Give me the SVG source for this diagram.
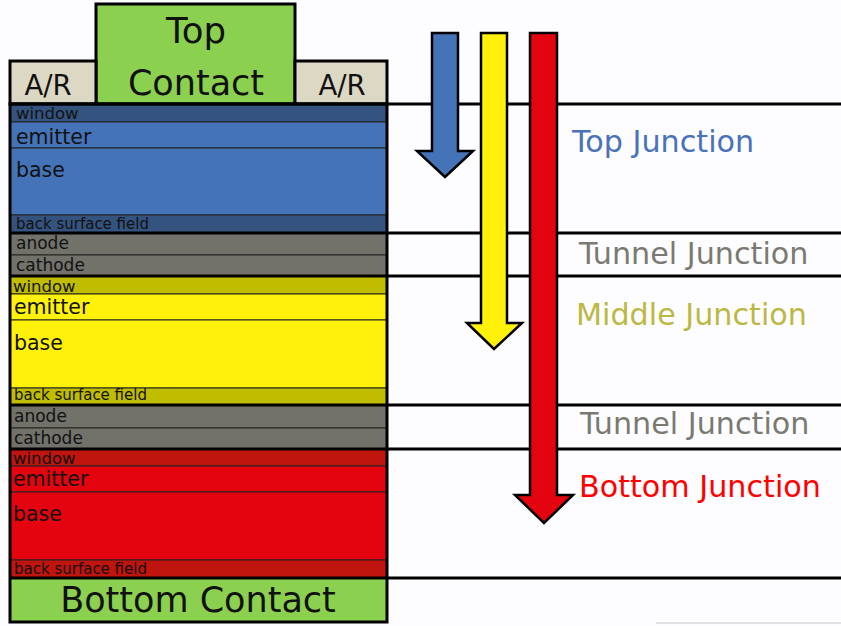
<svg xmlns="http://www.w3.org/2000/svg" width="841" height="626" viewBox="0 0 841 626">
<style>
text{font-family:"DejaVu Sans","Verdana",sans-serif;fill:#111}
.ly{stroke:#222;stroke-width:1}
.thick{stroke:#000;stroke-width:3}
.out{stroke:#000;stroke-width:3;fill:none}
.bnd{stroke:#000;stroke-width:3}
.arr{stroke:#000;stroke-width:2.5;stroke-linejoin:miter}
.s{font-size:16.5px}
.a{font-size:17px}
.m{font-size:20.5px}
.b{font-size:15px}
.lab{font-size:30.2px}
</style>
<rect width="841" height="626" fill="#fdfdff"/>
<g id="connectors">
<line class="bnd" x1="387" y1="104" x2="841" y2="104"/>
<line class="bnd" x1="387" y1="233" x2="841" y2="233"/>
<line class="bnd" x1="387" y1="276" x2="841" y2="276"/>
<line class="bnd" x1="387" y1="405" x2="841" y2="405"/>
<line class="bnd" x1="387" y1="449" x2="841" y2="449"/>
<line class="bnd" x1="387" y1="578" x2="841" y2="578"/>
<line x1="656" y1="623" x2="841" y2="623" stroke="#c8c8c8" stroke-width="1"/>
<polygon class="arr" fill="#4573b8" points="432,33 458,33 458,151 473,151 445,177 417,151 432,151"/>
<polygon class="arr" fill="#fff10a" points="481,33 507,33 507,323 522,323 494,349 467,323 481,323"/>
<polygon class="arr" fill="#e3040f" points="530,33 557,33 557,495 573,495 544,523 515,495 530,495"/>
</g>
<g id="top-contact">
<rect x="96" y="4" width="199" height="100" style="fill:#8cd050" class="thick"/>
<text x="196" y="43" font-size="35.5" text-anchor="middle">Top</text>
<text x="196" y="95" font-size="35" text-anchor="middle">Contact</text>
</g>
<g id="ar-left">
<rect x="10" y="61" width="86" height="43" style="fill:#dcd8c4" class="thick"/>
<text x="48" y="95" font-size="27.5" text-anchor="middle">A/R</text>
</g>
<g id="ar-right">
<rect x="295" y="61" width="92" height="43" style="fill:#dcd8c4" class="thick"/>
<text x="342" y="95" font-size="27.5" text-anchor="middle">A/R</text>
</g>
<g id="top-junction">
<rect class="ly" x="10" y="104" width="377" height="18" fill="#34537f"/>
<rect class="ly" x="10" y="122" width="377" height="26" fill="#4573b8"/>
<rect class="ly" x="10" y="148" width="377" height="67" fill="#4573b8"/>
<rect class="ly" x="10" y="215" width="377" height="18" fill="#34537f"/>
<text class="s" x="16" y="119">window</text>
<text class="m" x="16" y="144">emitter</text>
<text class="m" x="16" y="177">base</text>
<text class="b" x="16" y="229">back surface field</text>
</g>
<g id="tunnel-junction-1">
<rect class="ly" x="10" y="233" width="377" height="22" fill="#72726b"/>
<rect class="ly" x="10" y="255" width="377" height="21" fill="#72726b"/>
<text class="a" x="16" y="249">anode</text>
<text class="a" x="16" y="271">cathode</text>
</g>
<g id="middle-junction">
<rect class="ly" x="10" y="276" width="377" height="18" fill="#c0bd00"/>
<rect class="ly" x="10" y="294" width="377" height="26" fill="#fff10a"/>
<rect class="ly" x="10" y="320" width="377" height="68" fill="#fff10a"/>
<rect class="ly" x="10" y="388" width="377" height="17" fill="#c0bd00"/>
<text class="s" x="13" y="292">window</text>
<text class="m" x="14" y="314">emitter</text>
<text class="m" x="14" y="350">base</text>
<text class="b" x="14" y="400">back surface field</text>
</g>
<g id="tunnel-junction-2">
<rect class="ly" x="10" y="405" width="377" height="23" fill="#72726b"/>
<rect class="ly" x="10" y="428" width="377" height="21" fill="#72726b"/>
<text class="a" x="14" y="422">anode</text>
<text class="a" x="14" y="444">cathode</text>
</g>
<g id="bottom-junction">
<rect class="ly" x="10" y="449" width="377" height="17" fill="#c0140f"/>
<rect class="ly" x="10" y="466" width="377" height="26" fill="#e3040f"/>
<rect class="ly" x="10" y="492" width="377" height="68" fill="#e3040f"/>
<rect class="ly" x="10" y="560" width="377" height="18" fill="#c0140f"/>
<text class="s" x="13" y="464">window</text>
<text class="m" x="13" y="486">emitter</text>
<text class="m" x="13" y="521">base</text>
<text class="b" x="14" y="574">back surface field</text>
</g>
<g id="bottom-contact">
<rect x="10" y="578" width="377" height="44" fill="#8cd050"/>
<text x="198" y="612" font-size="35" text-anchor="middle">Bottom Contact</text>
</g>
<g id="stack-outline">
<rect class="out" x="10" y="104" width="377" height="518"/>
<line class="bnd" x1="10" y1="104" x2="387" y2="104"/>
<line class="bnd" x1="10" y1="233" x2="387" y2="233"/>
<line class="bnd" x1="10" y1="276" x2="387" y2="276"/>
<line class="bnd" x1="10" y1="405" x2="387" y2="405"/>
<line class="bnd" x1="10" y1="449" x2="387" y2="449"/>
<line class="bnd" x1="10" y1="578" x2="387" y2="578"/>
</g>
<g id="labels">
<text class="lab" x="572" y="152" style="fill:#4a72b8">Top Junction</text>
<text class="lab" x="579" y="264" style="fill:#7a7a72">Tunnel Junction</text>
<text class="lab" x="576" y="325" style="fill:#bcb843">Middle Junction</text>
<text class="lab" x="580" y="434" style="fill:#7a7a72">Tunnel Junction</text>
<text class="lab" x="579" y="497" style="fill:#ff0000">Bottom Junction</text>
</g>
</svg>
